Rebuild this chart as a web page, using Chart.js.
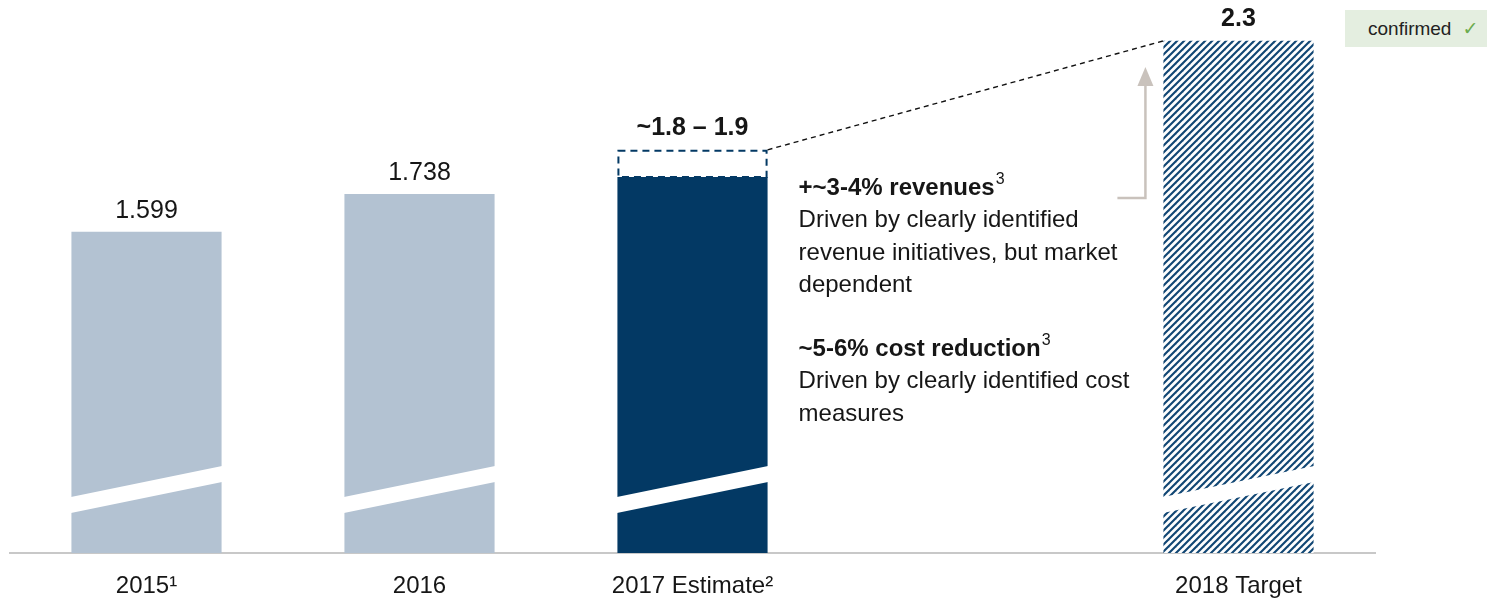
<!DOCTYPE html>
<html>
<head>
<meta charset="utf-8">
<script src="https://cdn.jsdelivr.net/npm/chart.js@4.4.0/dist/chart.umd.min.js"></script>
<style>
  html, body { margin: 0; padding: 0; background: #fff; }
  #wrap { position: relative; width: 1487px; height: 602px; }
  #chart { display: block; }
  #badge {
    position: absolute; left: 1345px; top: 10px; width: 142px; height: 37px;
    background: #e4eee0; color: #222;
    font: 19px "Liberation Sans", Arial, sans-serif;
    line-height: 37px;
  }
  #badge .tick { color: #6bab4e; margin-left: 11px; font-family: "DejaVu Sans", sans-serif; }
</style>
</head>
<body>
<div id="wrap">
  <canvas id="chart" width="1487" height="602"></canvas>
  <div id="badge"><span style="margin-left:23px">confirmed</span><span class="tick">✓</span></div>
</div>

<script>
// ---- data ----
const years = ["2015¹", "2016", "2017 Estimate²", "", "2018 Target"];
const actual = [1.599, 1.738, null, null, null];
const estimateLow = [null, null, 1.8, null, null];
const estimateRange = [null, null, [1.8, 1.9], null, null];
const target = [null, null, null, null, 2.3];
const valueLabels = ["1.599", "1.738", "~1.8 – 1.9", "", "2.3"];
const boldLabels = [false, false, true, false, true];

// axis is cut (break marks on the bars), so it does not start at zero
const yMin = 0.42;
const yMax = 2.45;

const notes = [
  { head: "+~3-4% revenues", sup: "3", lines: ["Driven by clearly identified", "revenue initiatives, but market", "dependent"] },
  { head: "~5-6% cost reduction", sup: "3", lines: ["Driven by clearly identified cost", "measures"] }
];

const FONT = '"Liberation Sans", Arial, sans-serif';
const LIGHT = "#b3c2d2";
const NAVY = "#033964";
const TEXT = "#161616";

// diagonal hatch for the target bar
function hatch(){
  const c = document.createElement("canvas");
  c.width = 7; c.height = 7;
  const g = c.getContext("2d");
  g.fillStyle = "#ffffff";
  g.fillRect(0, 0, 7, 7);
  g.strokeStyle = "#104674";
  g.lineWidth = 2.1;
  for (let k = -1; k <= 1; k++) {
    g.beginPath();
    g.moveTo(k * 7 - 1, 8);
    g.lineTo(k * 7 + 8, -1);
    g.stroke();
  }
  return g.createPattern(c, "repeat");
}

// ===============================
// EXTRA DRAWING: breaks, dashed range, labels, notes
// ===============================
const extras = {
  id: "extras",
  afterDatasetsDraw(chart){
    const ctx = chart.ctx;
    const bottom = chart.chartArea.bottom;
    const metaActual = chart.getDatasetMeta(0);
    const metaLow = chart.getDatasetMeta(1);
    const metaRange = chart.getDatasetMeta(2);
    const metaTarget = chart.getDatasetMeta(3);

    const solid = [
      metaActual.data[0], metaActual.data[1], metaLow.data[2], metaTarget.data[4]
    ];

    // white axis-break band across the bottom of each bar
    ctx.save();
    ctx.fillStyle = "#ffffff";
    solid.forEach(bar => {
      const l = bar.x - bar.width / 2 - 0.5;
      const r = bar.x + bar.width / 2 + 0.5;
      const b = Math.min(bar.base, bottom);
      ctx.beginPath();
      ctx.moveTo(l, b - 56);
      ctx.lineTo(r, b - 87);
      ctx.lineTo(r, b - 71);
      ctx.lineTo(l, b - 40);
      ctx.closePath();
      ctx.fill();
    });
    ctx.restore();

    // dashed outline for the estimate range
    const rng = metaRange.data[2];
    const rl = rng.x - rng.width / 2;
    const rr = rng.x + rng.width / 2;
    ctx.save();
    ctx.strokeStyle = NAVY;
    ctx.lineWidth = 2;
    ctx.setLineDash([7, 5]);
    ctx.strokeRect(rl + 1, rng.y + 1, rng.width - 2, rng.base - rng.y - 1);
    ctx.restore();

    // dashed connector to the target bar
    const tg = metaTarget.data[4];
    const tl = tg.x - tg.width / 2;
    ctx.save();
    ctx.strokeStyle = "#111";
    ctx.lineWidth = 1.4;
    ctx.setLineDash([5, 4]);
    ctx.beginPath();
    ctx.moveTo(rr, rng.y);
    ctx.lineTo(tl, tg.y);
    ctx.stroke();
    ctx.restore();

    // grey elbow arrow pointing up to the target
    const ax = tl - 18;
    ctx.save();
    ctx.strokeStyle = "#c9c2bc";
    ctx.fillStyle = "#c9c2bc";
    ctx.lineWidth = 2.5;
    ctx.beginPath();
    ctx.moveTo(tl - 46, 198);
    ctx.lineTo(ax, 198);
    ctx.lineTo(ax, 84);
    ctx.stroke();
    ctx.beginPath();
    ctx.moveTo(ax, 67);
    ctx.lineTo(ax - 8, 86);
    ctx.lineTo(ax + 8, 86);
    ctx.closePath();
    ctx.fill();
    ctx.restore();

    // value labels above the bars
    const tops = [metaActual.data[0], metaActual.data[1], rng, null, tg];
    ctx.save();
    ctx.fillStyle = TEXT;
    ctx.textAlign = "center";
    ctx.textBaseline = "middle";
    tops.forEach((bar, i) => {
      if (!bar || !valueLabels[i]) return;
      ctx.font = (boldLabels[i] ? "bold " : "") + "25px " + FONT;
      ctx.fillText(valueLabels[i], bar.x, bar.y - (boldLabels[i] ? 22 : 21));
    });
    ctx.restore();

    // notes between the estimate and the target
    const nx = rr + 31;
    const starts = [188, 349];
    ctx.save();
    ctx.fillStyle = TEXT;
    ctx.textAlign = "left";
    ctx.textBaseline = "middle";
    notes.forEach((n, k) => {
      let y = starts[k];
      ctx.font = "bold 24px " + FONT;
      ctx.fillText(n.head, nx, y);
      const w = ctx.measureText(n.head).width;
      ctx.font = "16px " + FONT;
      ctx.fillText(n.sup, nx + w + 1, y - 8);
      ctx.font = "24px " + FONT;
      n.lines.forEach(line => {
        y += 32.5;
        ctx.fillText(line, nx, y);
      });
    });
    ctx.restore();
  }
};

// ===============================
// CHART
// ===============================
const ctx = document.getElementById("chart").getContext("2d");

new Chart(ctx, {
  type: "bar",
  data: {
    labels: years,
    datasets: [
      { label: "Actual", data: actual, backgroundColor: LIGHT },
      { label: "Estimate", data: estimateLow, backgroundColor: NAVY },
      { label: "Estimate range", data: estimateRange, backgroundColor: "#ffffff" },
      { label: "Target", data: target, backgroundColor: hatch() }
    ]
  },
  options: {
    responsive: false,
    animation: false,
    devicePixelRatio: 1,
    layout: { padding: { left: 10, right: 112, top: 0, bottom: 0 } },
    datasets: {
      bar: { grouped: false, barPercentage: 0.55, categoryPercentage: 1, borderWidth: 0 }
    },
    plugins: {
      legend: { display: false },
      tooltip: { enabled: false }
    },
    scales: {
      x: {
        grid: { display: false, drawTicks: false },
        border: { display: true, color: "#c8c8c8", width: 2 },
        ticks: {
          color: TEXT,
          font: { family: FONT, size: 24 },
          padding: 19,
          autoSkip: false,
          maxRotation: 0
        },
        afterFit(scale){ scale.height = 49; }
      },
      y: {
        display: false,
        min: yMin,
        max: yMax
      }
    }
  },
  plugins: [extras]
});
</script>
</body>
</html>
